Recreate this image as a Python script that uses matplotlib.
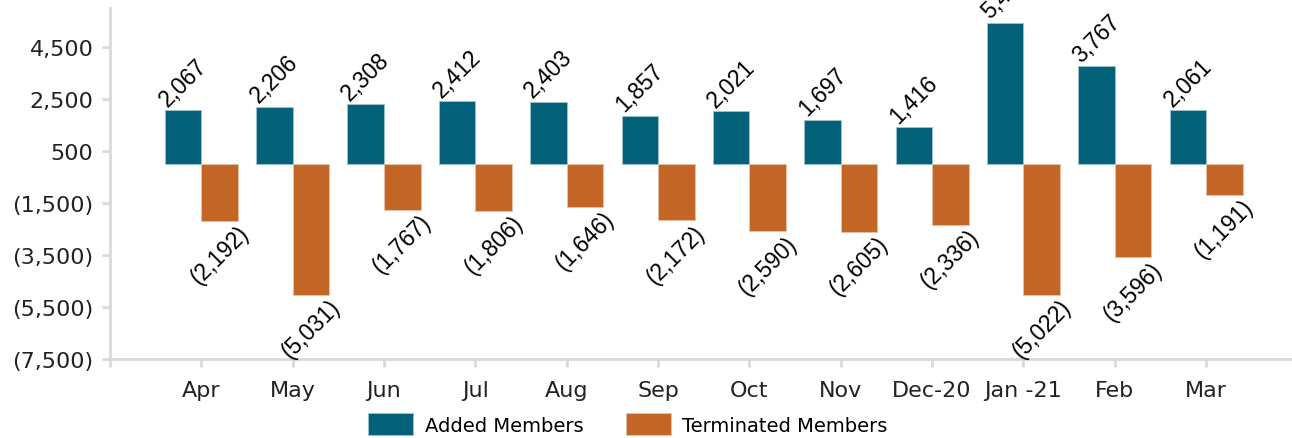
import numpy as np
import matplotlib
matplotlib.use('Agg')
import matplotlib.pyplot as plt

months = ['Apr', 'May', 'Jun', 'Jul', 'Aug', 'Sep', 'Oct', 'Nov', 'Dec-20', 'Jan -21', 'Feb', 'Mar']
added = [2067, 2206, 2308, 2412, 2403, 1857, 2021, 1697, 1416, 5430, 3767, 2061]
terminated = [-2192, -5031, -1767, -1806, -1646, -2172, -2590, -2605, -2336, -5022, -3596, -1191]

teal = '#03627A'
orange = '#C46726'
grid_grey = '#D9D9D9'


def fmt(v):
    # accounting style numbers
    if v < 0:
        return '({:,})'.format(-v)
    return '{:,}'.format(v)


fig = plt.figure(figsize=(12.92, 4.39), dpi=100)
ax = fig.add_axes([110 / 1292, 1 - 360 / 439, 1 - 110 / 1292, 351 / 439])

x = np.arange(len(months))
w = 0.4
b1 = ax.bar(x - w / 2, added, w, color=teal, edgecolor='#9FC3CC', linewidth=0.6, label='Added Members')
b2 = ax.bar(x + w / 2, terminated, w, color=orange, edgecolor='#E8C2A6', linewidth=0.6, label='Terminated Members')

for xi, v in zip(x - w / 2, added):
    ax.text(xi, v, fmt(v), rotation=45, ha='center', va='bottom', fontsize=16.5,
            family='Liberation Sans', clip_on=False)
for xi, v in zip(x + w / 2, terminated):
    ax.text(xi, v, fmt(v), rotation=45, ha='center', va='top', fontsize=16.5,
            family='Liberation Sans', clip_on=False)

yticks = [4500, 2500, 500, -1500, -3500, -5500, -7500]
ax.set_yticks(yticks)
ax.set_yticklabels([fmt(t) for t in yticks], fontsize=16, color='#222222')
ax.set_ylim(-7500, 6000)
ax.set_xlim(-1, 11.94)
ax.set_xticks(x)
ax.set_xticklabels(months, fontsize=16, color='#222222')
ax.set_xticks([-1], minor=True)

for s in ['top', 'right']:
    ax.spines[s].set_visible(False)
for s in ['left', 'bottom']:
    ax.spines[s].set_color(grid_grey)
    ax.spines[s].set_linewidth(2)
ax.tick_params(axis='both', which='both', color=grid_grey, width=2, length=6)
ax.tick_params(axis='y', pad=6)
ax.tick_params(axis='x', pad=9)

fig.legend(handles=[b1, b2], loc='center', bbox_to_anchor=(628 / 1292, 1 - 425 / 439),
           ncol=2, frameon=False, fontsize=14, handlelength=2.3, handleheight=1.3,
           columnspacing=2.2, handletextpad=0.6)

fig.savefig('out.png', dpi=100)
